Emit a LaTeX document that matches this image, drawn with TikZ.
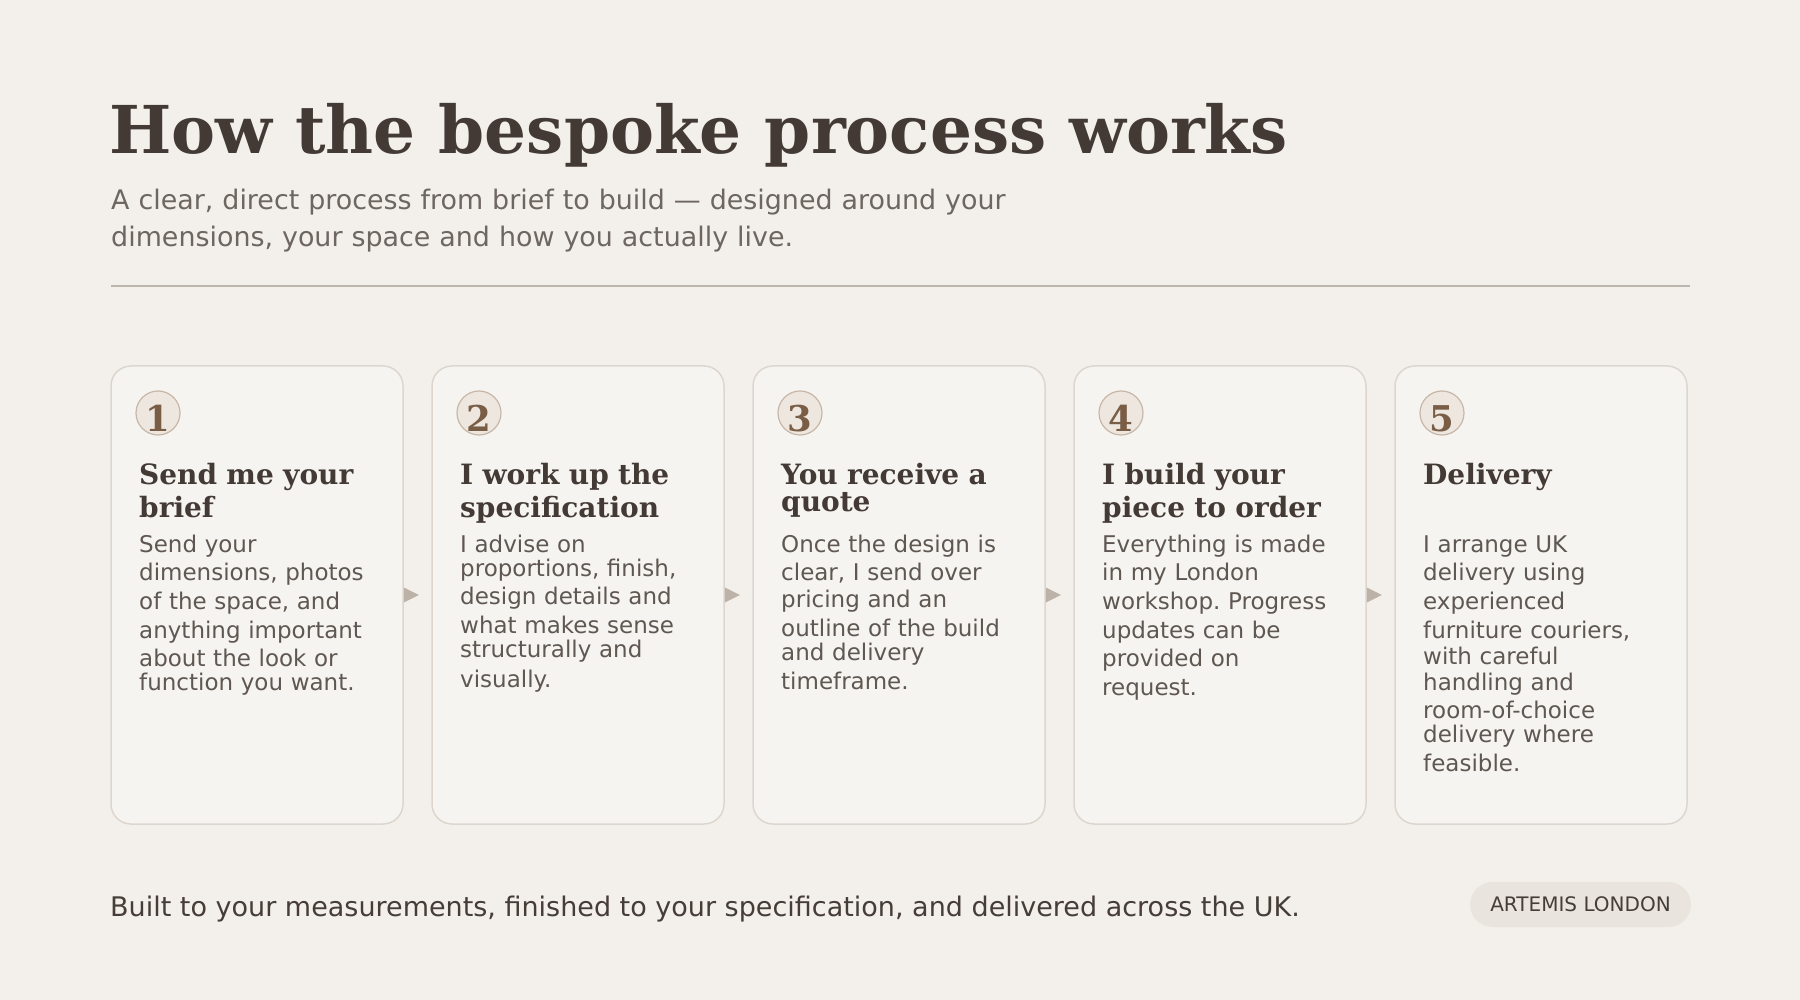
\documentclass[tikz,border=0pt]{standalone}
\usepackage{fontspec}
\setmainfont{DejaVu Sans}
\newfontfamily\headserif{DejaVu Serif}
\usetikzlibrary{positioning}
\frenchspacing

\definecolor{paper}{HTML}{F3F0EB}
\definecolor{cardfill}{HTML}{F6F4F0}
\definecolor{cardline}{HTML}{DDD6CE}
\definecolor{numfill}{HTML}{EDE7E0}
\definecolor{numline}{HTML}{C7B7A8}
\definecolor{numbrown}{HTML}{7A5D45}
\definecolor{ink}{HTML}{433A35}
\definecolor{bodytext}{HTML}{5F5752}
\definecolor{subtext}{HTML}{6E6661}
\definecolor{rulecol}{HTML}{BDB6AE}
\definecolor{tipcol}{HTML}{BDB2A7}
\definecolor{foottext}{HTML}{463D38}
\definecolor{badgefill}{HTML}{E9E4DE}

\tikzset{
  card/.style={draw=cardline, fill=cardfill, line width=1.5pt, rounded corners=20pt,
    minimum width=292pt, minimum height=458pt, inner sep=0pt},
  stepnum/.style={circle, draw=numline, fill=numfill, line width=1.2pt, minimum size=44pt,
    inner sep=0pt, text height=36pt, text depth=0pt, text=numbrown,
    font=\headserif\bfseries\fontsize{35.5}{36}\selectfont},
  stephead/.style={anchor=base west, text width=290pt, align=left, inner sep=0pt, text=ink,
    font=\headserif\bfseries\fontsize{28}{33}\selectfont},
  stepbody/.style={anchor=base west, text width=290pt, align=left, inner sep=0pt, text=bodytext,
    font=\fontsize{23}{28.7}\selectfont},
  steptip/.style={fill=tipcol},
  badge/.style={fill=badgefill, rounded corners=22.5pt, minimum width=221pt, minimum height=45pt,
    inner sep=0pt, text=foottext, font=\fontsize{20}{20}\selectfont}
}

\begin{document}
\begin{tikzpicture}[x=1pt, y=-1pt]
  \fill[paper] (0,0) rectangle (1800,1000);
  \useasboundingbox (0,0) rectangle (1800,1000);

  % heading
  \node[anchor=base west, inner sep=0pt, text=ink, font=\headserif\bfseries\fontsize{66}{70}\selectfont] (title) at (109,154) {How the bespoke process works};
  \node[anchor=base west, text width=1100pt, align=left, inner sep=0pt, text=subtext, font=\fontsize{26.9}{37}\selectfont] (sub) at (111,210)
    {A clear, direct process from brief to build — designed around your\\dimensions, your space and how you actually live.};
  \draw[rulecol, line width=1.5pt] (111,286) -- (1690,286);

  % cards
  \node[card] (c1) at (257,595) {};
  \node[card] (c2) at (578,595) {};
  \node[card] (c3) at (899,595) {};
  \node[card] (c4) at (1220,595) {};
  \node[card] (c5) at (1541,595) {};

  \node[stepnum] (n1) at (158,413) {1};
  \node[stepnum] (n2) at (479,413) {2};
  \node[stepnum] (n3) at (800,413) {3};
  \node[stepnum] (n4) at (1121,413) {4};
  \node[stepnum] (n5) at (1442,413) {5};

  \node[stephead] (h1) at (139,484) {Send me your\\brief};
  \node[stephead] (h2) at (460,484) {I work up the\\specification};
  \node[stephead] (h3) at (781,484) {You receive a\\[-6pt]quote};
  \node[stephead] (h4) at (1102,484) {I build your\\piece to order};
  \node[stephead] (h5) at (1423,484) {Delivery};

  \node[stepbody] (b1) at (139,552) {Send your\\dimensions, photos\\of the space, and\\anything important\\about the look or\\[-4.7pt]function you want.};
  \node[stepbody] (b2) at (460,552) {I advise on\\[-4.7pt]proportions, finish,\\design details and\\what makes sense\\[-4.7pt]structurally and\\[1.3pt]visually.};
  \node[stepbody] (b3) at (781,552) {Once the design is\\clear, I send over\\[-1.7pt]pricing and an\\outline of the build\\[-4.7pt]and delivery\\timeframe.};
  \node[stepbody] (b4) at (1102,552) {Everything is made\\in my London\\workshop. Progress\\updates can be\\provided on\\request.};
  \node[stepbody] (b5) at (1423,552) {I arrange UK\\delivery using\\experienced\\furniture couriers,\\[-2.7pt]with careful\\[-2.7pt]handling and\\room-of-choice\\[-4.7pt]delivery where\\feasible.};

  % arrow tips between cards
  \fill[steptip] ([yshift=7.5pt]c1.east) -- ([xshift=15pt]c1.east) -- ([yshift=-7.5pt]c1.east) -- cycle;
  \fill[steptip] ([yshift=7.5pt]c2.east) -- ([xshift=15pt]c2.east) -- ([yshift=-7.5pt]c2.east) -- cycle;
  \fill[steptip] ([yshift=7.5pt]c3.east) -- ([xshift=15pt]c3.east) -- ([yshift=-7.5pt]c3.east) -- cycle;
  \fill[steptip] ([yshift=7.5pt]c4.east) -- ([xshift=15pt]c4.east) -- ([yshift=-7.5pt]c4.east) -- cycle;

  % footer
  \node[anchor=base west, inner sep=0pt, text=foottext, font=\fontsize{27}{30}\selectfont] (foot) at (110,916)
    {Built to your measurements, finished to your specification, and delivered across the UK.};
  \node[badge] (brand) at (1580.5,904.5) {ARTEMIS LONDON};
\end{tikzpicture}
\end{document}
